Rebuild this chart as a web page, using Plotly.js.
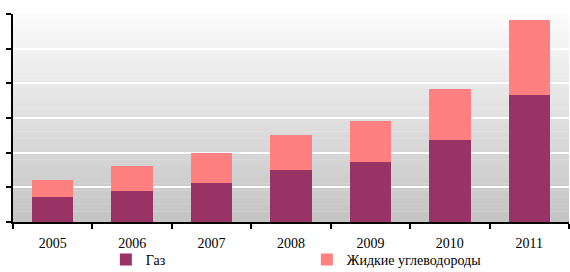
<!DOCTYPE html>
<html><head><meta charset="utf-8">
<script src="https://cdn.plot.ly/plotly-3.0.1.min.js"></script>
<style>html,body{margin:0;padding:0;background:#fff;overflow:hidden}#wrap{width:570px;height:272px;overflow:hidden}#c{width:570px;height:276px}</style>
</head><body><div id="wrap"><div id="c"></div></div>
<script>
const years = ['2005','2006','2007','2008','2009','2010','2011'];
const gas = [0.72, 0.89, 1.12, 1.50, 1.73, 2.37, 3.66];
const liquids = [0.49, 0.73, 0.87, 1.01, 1.18, 1.47, 2.17];
const seriesNames = ['Газ', 'Жидкие углеводороды'];

// background gradient stripes (white top -> gray bottom)
const shapes = [];
const N = 60;
for (let i = 0; i < N; i++) {
  const t = i / N;            // 0 bottom -> 1 top
  const v = Math.round(196 + (252 - 196) * t);
  shapes.push({type:'rect', xref:'paper', yref:'paper', x0:0, x1:1,
    y0:t, y1:(i+1)/N + 0.002, line:{width:0}, fillcolor:`rgb(${v},${v},${v})`, layer:'below'});
}
const FONT = 'Times New Roman, Liberation Serif, serif';

const data = [
  {type:'bar', x:years, y:gas, name:seriesNames[0], marker:{color:'#993366'}},
  {type:'bar', x:years, y:liquids, name:seriesNames[1], marker:{color:'#FF8080'}}
];
const layout = {
  width:570, height:276,
  margin:{l:13, r:1, t:14, b:54},
  barmode:'stack', bargap:0.48,
  paper_bgcolor:'#ffffff', plot_bgcolor:'rgba(0,0,0,0)',
  font:{family:FONT, size:14, color:'#000'},
  showlegend:true,
  legend:{orientation:'h', xref:'paper', x:0.167, xanchor:'left', yref:'container', y:0, yanchor:'bottom',
    entrywidth:156, entrywidthmode:'pixels', itemwidth:30, traceorder:'normal',
    font:{family:FONT, size:14}, bgcolor:'rgba(0,0,0,0)'},
  xaxis:{type:'category', showline:true, linecolor:'#000', linewidth:2,
    ticks:'outside', tickson:'boundaries', ticklen:5, tickwidth:2, tickcolor:'#000',
    showgrid:false, ticklabelstandoff:7, tickfont:{family:FONT, size:14}},
  yaxis:{range:[0,6], dtick:1, showticklabels:false, showline:true, linecolor:'#000', linewidth:2,
    ticks:'outside', ticklen:5, tickwidth:2, tickcolor:'#000',
    showgrid:true, gridcolor:'#ffffff', gridwidth:2, zeroline:false},
  shapes:shapes
};
Plotly.newPlot('c', data, layout, {displayModeBar:false, staticPlot:true});
</script></body></html>
